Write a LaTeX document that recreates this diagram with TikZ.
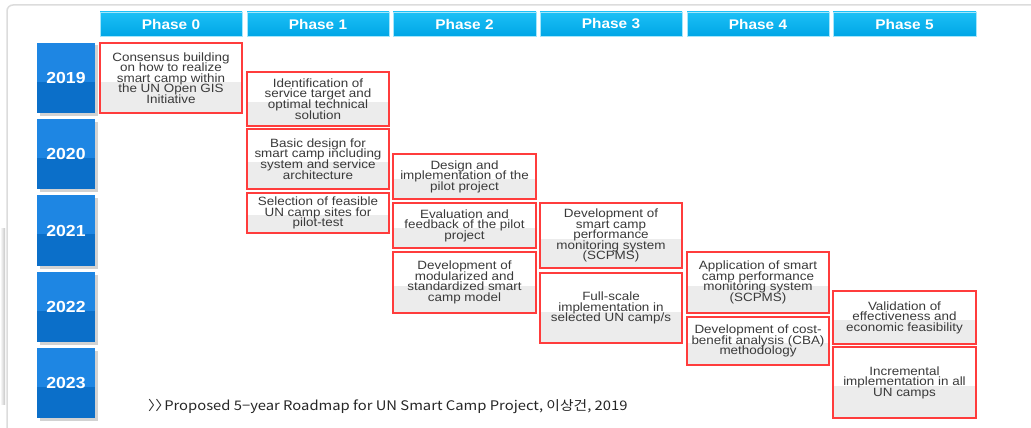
\documentclass[tikz,border=0pt]{standalone}
\usepackage{fontspec}
\setmainfont{Liberation Sans}
\newfontfamily\boxfont[FakeStretch=1.12]{Liberation Sans}
\newfontfamily\headfont[FakeStretch=1.1]{Liberation Sans}
\newfontfamily\capfont[FakeStretch=1.12]{Noto Sans CJK KR}
\newcommand\tightlines{\lineskiplimit=-20pt\relax\lineskip=0pt\relax}
\usetikzlibrary{calc,shadows}
\definecolor{taskred}{HTML}{FF3C3C}
\definecolor{taskgray}{HTML}{ECECEC}
\definecolor{tasktext}{HTML}{3A3A3A}
\definecolor{yeartop}{HTML}{1E86E3}
\definecolor{yearbot}{HTML}{0B6FC9}
\definecolor{headtop}{HTML}{1CC0F6}
\definecolor{headbot}{HTML}{00A6E6}
\definecolor{panelline}{HTML}{DCDCDC}
\tikzset{
  taskbox/.style={draw=taskred, line width=1.4pt, fill=white, inner sep=2pt,
    align=center, text=tasktext,
    font=\boxfont\fontsize{12}{10.6}\selectfont\tightlines,
    path picture={\fill[taskgray] ($(path picture bounding box.north west)!0.55!(path picture bounding box.south west)$) rectangle (path picture bounding box.south east);}},
  yearbox/.style={fill=yeartop, text=white, drop shadow={shadow xshift=2.5pt, shadow yshift=-2.5pt, opacity=0.35},
    font=\headfont\fontsize{16}{16}\selectfont\bfseries,
    path picture={\fill[yearbot] ($(path picture bounding box.north west)!0.55!(path picture bounding box.south west)$) rectangle (path picture bounding box.south east);}},
  headbox/.style={top color=headtop, bottom color=headbot, draw=headtop!40, line width=0.6pt, text=white,
    font=\headfont\fontsize{14}{14}\selectfont\bfseries},
}
\newcommand\rect[6]{\node[#6, minimum width={#4-#2}, minimum height={#5-#3}] (#1) at ({(#2+#4)/2},{(#3+#5)/2})}
\begin{document}
\begin{tikzpicture}[x=1pt,y=-1pt]
\useasboundingbox (0,0) rectangle (1031,428);
\fill[white] (0,0) rectangle (1031,428);
% left shadow strip
\shade[left color=white, right color=black!22] (0,228) rectangle (5,404);
% panel
\draw[panelline, line width=1.5pt, rounded corners=6pt] (7,440) -- (7,5) -- (1045,5);
% phase headers
\rect{p0}{100}{12}{242}{36}{headbox}{Phase 0};
\rect{p1}{247}{12}{389}{36}{headbox}{Phase 1};
\rect{p2}{393}{12}{536}{36}{headbox}{Phase 2};
\rect{p3}{540}{12}{682}{36}{headbox}{Phase 3};
\rect{p4}{687}{12}{829}{36}{headbox}{Phase 4};
\rect{p5}{833}{12}{976}{36}{headbox}{Phase 5};
% years
\rect{y19}{37}{43}{95}{113}{yearbox}{2019};
\rect{y20}{37}{119}{95}{189}{yearbox}{2020};
\rect{y21}{37}{195}{95}{266}{yearbox}{2021};
\rect{y22}{37}{272}{95}{342}{yearbox}{2022};
\rect{y23}{37}{348}{95}{418}{yearbox}{2023};
% tasks
\rect{t1}{100}{43}{242}{113}{taskbox}{Consensus building\\on how to realize\\smart camp within\\the UN Open GIS\\Initiative};
\rect{t2}{247}{72}{389}{126}{taskbox}{Identification of\\service target and\\optimal technical\\solution};
\rect{t3}{247}{129}{389}{189}{taskbox}{Basic design for\\smart camp including\\system and service\\architecture};
\rect{t4}{247}{193}{389}{233}{taskbox}{Selection of feasible\\UN camp sites for\\pilot-test};
\rect{t5}{393}{154}{536}{199}{taskbox}{Design and\\implementation of the\\pilot project};
\rect{t6}{393}{203}{536}{248}{taskbox}{Evaluation and\\feedback of the pilot\\project};
\rect{t7}{393}{252}{536}{313}{taskbox}{Development of\\modularized and\\standardized smart\\camp model};
\rect{t8}{540}{203}{682}{268}{taskbox}{Development of\\smart camp\\performance\\monitoring system\\(SCPMS)};
\rect{t9}{540}{273}{682}{343}{taskbox}{Full-scale\\implementation in\\selected UN camp/s};
\rect{t10}{687}{252}{829}{313}{taskbox}{Application of smart\\camp performance\\monitoring system\\(SCPMS)};
\rect{t11}{687}{317}{829}{365}{taskbox}{Development of cost-\\benefit analysis (CBA)\\methodology};
\rect{t12}{833}{291}{976}{344}{taskbox}{Validation of\\effectiveness and\\economic feasibility};
\rect{t13}{833}{347}{976}{418}{taskbox}{Incremental\\implementation in all\\UN camps};
% caption
\node[anchor=west, inner sep=0pt, text=black!85, font=\capfont\fontsize{13.2}{13.2}\selectfont] (cap) at (148,407) {〉\kern-7.5pt〉\kern-6pt Proposed 5−year Roadmap for UN Smart Camp Project, 이상건, 2019};
\end{tikzpicture}
\end{document}
